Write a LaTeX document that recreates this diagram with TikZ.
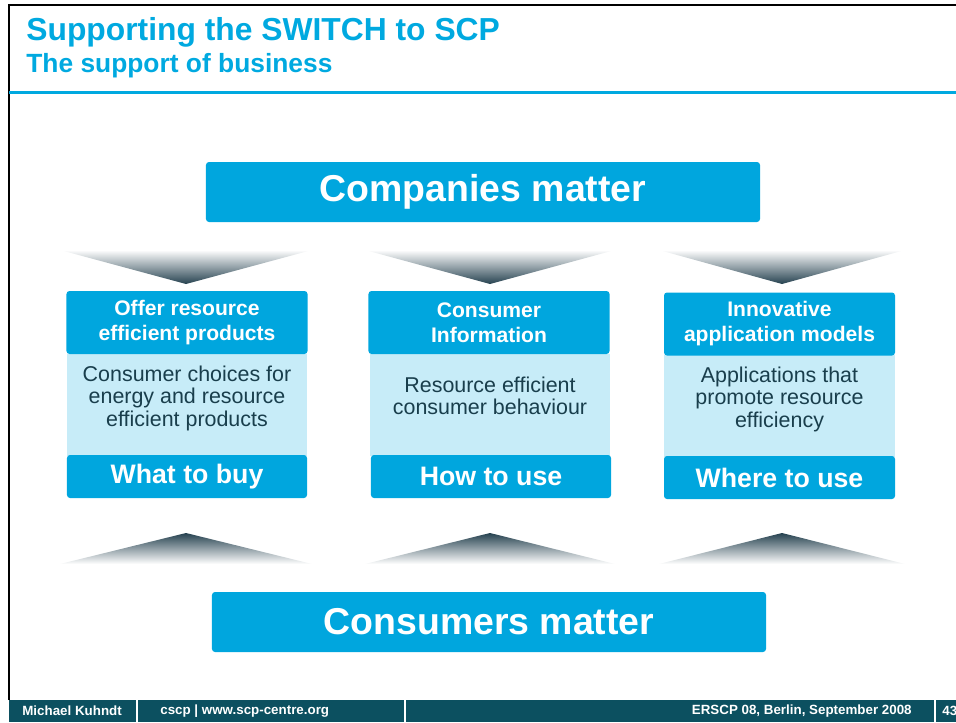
\documentclass[tikz,border=0pt]{standalone}
\usepackage{fontspec}
\setmainfont{Liberation Sans}
\usepackage{tikz}
\usetikzlibrary{positioning}
\usetikzlibrary{calc}
\definecolor{scpblue}{RGB}{0,169,224}
\definecolor{boxblue}{RGB}{0,166,222}
\definecolor{bodyblue}{RGB}{199,236,248}
\definecolor{bodytext}{RGB}{25,62,76}
\definecolor{footbg}{RGB}{12,80,96}
\definecolor{chevdark}{RGB}{38,66,80}

\begin{document}
\begin{tikzpicture}[
            x=0.2mm,y=-0.2mm,
            bigbox/.style={rectangle,rounded corners=0.6mm,fill=boxblue,text=white,
                font=\fontsize{21.3}{24}\selectfont\bfseries,minimum width=110.8mm,minimum height=12mm},
            headbox/.style={rectangle,rounded corners=0.6mm,fill=boxblue,text=white,align=center,
                font=\fontsize{12}{14.2}\selectfont\bfseries,minimum width=48.2mm,minimum height=12.6mm,inner sep=0pt},
            footbox/.style={rectangle,rounded corners=0.6mm,fill=boxblue,text=white,
                font=\fontsize{15.2}{17}\selectfont\bfseries,minimum width=48mm,minimum height=8.6mm,inner sep=0pt},
            bodybox/.style={rectangle,fill=bodyblue,minimum width=48mm,minimum height=20.4mm,inner sep=0pt},
            bodytxt/.style={text=bodytext,align=center,font=\fontsize{12.2}{12.8}\selectfont,inner sep=0pt},
            foottxt/.style={text=white,font=\fontsize{7.6}{8}\selectfont\bfseries,inner sep=0pt},
        ]
            \useasboundingbox (0,0) rectangle (956,722);

            %--- Frame and heading ---%
            \draw[black,line width=0.5mm] (9,700) -- (9,5) -- (956,5);
            \draw[scpblue,line width=0.6mm] (9,92) -- (956,92);
            \node[anchor=base west,text=scpblue,font=\fontsize{18.1}{21}\selectfont\bfseries,inner sep=0pt]
                (title) at (26,40) {Supporting the SWITCH to SCP};
            \node[anchor=base west,text=scpblue,font=\fontsize{15}{17}\selectfont\bfseries,inner sep=0pt]
                (subtitle) at (26,72) {The support of business};

            %--- Top and bottom boxes ---%
            \node[bigbox] (companies) at (483,192) {Companies matter};
            \node[bigbox] (consumers) at (489,622) {Consumers matter};

            %--- Chevrons ---%
            \foreach \cx/\hw in {186/126,490/125,782/123}{
                \shade[top color=white,bottom color=chevdark] (\cx-\hw,250) -- (\cx+\hw,250) -- (\cx,284) -- cycle;
                \shade[top color=chevdark,bottom color=white] (\cx-\hw,564) -- (\cx,533) -- (\cx+\hw,564) -- cycle;
            }

            %--- Column 1 ---%
            \node[bodybox] (body1) at (187,405) {};
            \node[headbox] (head1) at (187,322.5) {Offer resource\\efficient products};
            \node[bodytxt] (text1) at (187,398) {Consumer choices for\\energy and resource\\efficient products};
            \node[footbox] (buy) at (187,476.5) {What to buy};

            %--- Column 2 ---%
            \node[bodybox] (body2) at (490,405) {};
            \node[headbox] (head2) at (489,322.5) {Consumer\\Information};
            \node[bodytxt] (text2) at (490,396) {Resource efficient\\consumer behaviour};
            \node[footbox] (use) at (491,476.5) {How to use};

            %--- Column 3 ---%
            \node[bodybox,minimum width=46.2mm] (body3) at (779.5,405.5) {};
            \node[headbox,minimum width=46.2mm] (head3) at (779.5,324) {Innovative\\application models};
            \node[bodytxt] (text3) at (779.5,399) {Applications that\\promote resource\\efficiency};
            \node[footbox,minimum width=46.2mm] (where) at (779.5,477.5) {Where to use};

            %--- Footer ---%
            \fill[footbg] (9,700) rectangle (956,722);
            \foreach \sx in {137,405,935}
                \draw[white,line width=0.4mm] (\sx,700) -- (\sx,722);
            \node[foottxt,anchor=west] (author) at (22,711) {Michael Kuhndt};
            \node[foottxt,anchor=west] (site) at (160,711) {cscp | www.scp-centre.org};
            \node[foottxt,anchor=east] (event) at (912,711) {ERSCP 08, Berlin, September 2008};
            \node[foottxt,anchor=west] (page) at (942,711) {43};

        \end{tikzpicture}
\end{document}
